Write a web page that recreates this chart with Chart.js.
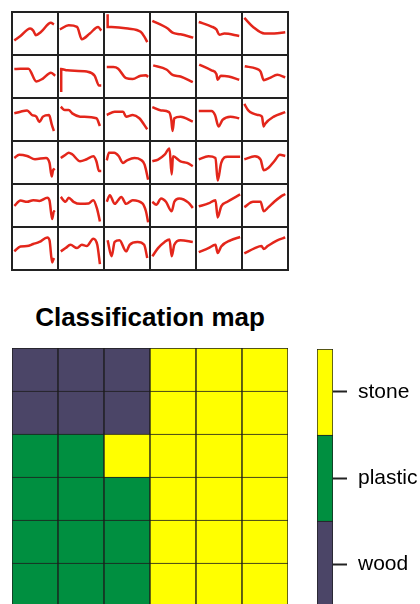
<!DOCTYPE html>
<html>
<head>
<meta charset="utf-8">
<script src="https://cdn.jsdelivr.net/npm/chart.js@4.4.0/dist/chart.umd.min.js"></script>
<style>
  html, body { margin: 0; padding: 0; background: #fff; width: 420px; height: 604px; overflow: hidden; }
  #grid { position: absolute; left: 11px; top: 11px; width: 278px; height: 260px; background: #222; }
  #grid canvas { position: absolute; background: #fff; }
  #title { position: absolute; left: 0; top: 304px; width: 300px; text-align: center;
           font: bold 26px "Liberation Sans", Arial, sans-serif; line-height: 26px; color: #000; }
  #heat { position: absolute; left: 11px; top: 347px; }
  #bar { position: absolute; left: 316px; top: 347px; }
</style>
</head>
<body>
<div id="grid"></div>
<div id="title">Classification map</div>
<canvas id="heat" width="278" height="262"></canvas>
<canvas id="bar" width="107" height="262"></canvas>
<script>
// spectra for each cell, read row by row (x 0-100, y 0-100 with 100 at top)
const spectra = [
  // row 1
  [[3,33],[17,44],[39,62],[46,57],[52,46],[64,54],[86,76],[93,72]],
  [[2,60],[22,70],[41,66],[52,36],[70,50],[89,66],[96,57]],
  [[6,97],[6,66],[15,66],[52,62],[81,54],[90,41],[96,29]],
  [[3,81],[38,62],[49,52],[67,48],[96,40]],
  [[4,78],[33,67],[44,60],[51,47],[62,50],[96,44]],
  [[3,88],[23,66],[49,50],[71,50],[96,53]],
  // row 2
  [[3,68],[17,69],[35,69],[53,38],[68,45],[86,59],[96,52]],
  [[5,12],[5,68],[19,65],[63,62],[81,52],[91,28],[96,28]],
  [[4,73],[19,73],[30,69],[48,46],[63,44],[81,52],[93,53],[98,49]],
  [[5,77],[35,67],[49,54],[67,50],[95,36]],
  [[5,79],[33,65],[44,56],[47,42],[54,52],[72,50],[96,42]],
  [[4,75],[30,69],[40,62],[47,41],[60,46],[78,54],[96,48]],
  // row 3
  [[3,65],[17,69],[32,72],[43,61],[53,57],[60,44],[68,57],[82,61],[88,38],[93,22]],
  [[4,81],[13,73],[22,73],[30,65],[48,57],[85,53],[93,34]],
  [[4,61],[22,69],[41,69],[48,57],[63,61],[78,53],[96,26]],
  [[3,80],[23,72],[41,68],[46,50],[49,22],[53,53],[67,57],[95,45]],
  [[4,71],[33,71],[41,61],[49,33],[58,49],[76,57],[96,53]],
  [[3,88],[12,72],[34,61],[43,57],[47,33],[50,39],[70,57],[96,68]],
  // row 4
  [[3,61],[14,69],[32,66],[50,58],[75,61],[83,49],[88,16],[91,31],[95,35]],
  [[4,61],[15,69],[22,74],[30,70],[48,53],[63,58],[78,65],[85,53],[91,29],[96,29]],
  [[4,55],[9,74],[21,74],[31,66],[41,49],[50,55],[67,61],[81,57],[90,45],[98,8]],
  [[3,53],[16,57],[31,69],[42,84],[47,21],[50,65],[67,53],[82,49],[95,41]],
  [[4,58],[26,65],[42,61],[47,6],[55,49],[69,64],[98,64]],
  [[3,58],[27,65],[40,57],[47,31],[58,37],[71,53],[84,69],[96,66]],
  // row 5
  [[3,49],[17,62],[32,59],[46,63],[60,61],[78,69],[83,62],[89,17],[93,36],[95,34]],
  [[4,71],[15,59],[22,69],[33,59],[48,54],[67,55],[78,63],[87,40],[93,11]],
  [[4,59],[11,75],[22,54],[30,63],[37,71],[48,54],[63,63],[85,55],[93,36],[98,9]],
  [[3,59],[12,52],[23,67],[34,59],[47,36],[53,59],[64,67],[85,57],[95,44]],
  [[4,48],[26,55],[42,63],[47,21],[55,48],[69,59],[98,77]],
  [[3,46],[23,59],[40,59],[47,36],[58,46],[71,59],[85,71],[96,78]],
  // row 6
  [[3,43],[17,55],[32,56],[46,61],[60,66],[78,77],[83,70],[89,16],[93,27]],
  [[4,43],[15,51],[26,59],[41,51],[52,59],[63,56],[78,74],[87,59],[93,12]],
  [[6,70],[15,31],[22,66],[33,70],[48,43],[56,59],[74,66],[89,59],[96,27]],
  [[3,31],[16,51],[31,66],[42,72],[47,31],[53,59],[67,70],[95,66]],
  [[4,41],[26,51],[42,59],[47,39],[55,55],[76,70],[98,78]],
  [[3,38],[27,51],[42,56],[47,49],[56,56],[78,70],[96,77]]
];

// classification grid, top row first
const classMap = [
  ['wood', 'wood', 'wood', 'stone', 'stone', 'stone'],
  ['wood', 'wood', 'wood', 'stone', 'stone', 'stone'],
  ['plastic', 'plastic', 'stone', 'stone', 'stone', 'stone'],
  ['plastic', 'plastic', 'plastic', 'stone', 'stone', 'stone'],
  ['plastic', 'plastic', 'plastic', 'stone', 'stone', 'stone'],
  ['plastic', 'plastic', 'plastic', 'stone', 'stone', 'stone']
];
const classes = ['wood', 'plastic', 'stone'];
const classColors = { wood: '#4b4567', plastic: '#008f40', stone: '#ffff00' };

Chart.defaults.animation = false;
Chart.defaults.responsive = false;
Chart.defaults.font.family = '"Liberation Sans", Arial, sans-serif';

// small spectra grid
const grid = document.getElementById('grid');
spectra.forEach(function (pts, i) {
  const row = Math.floor(i / 6), col = i % 6;
  const c = document.createElement('canvas');
  c.width = 44; c.height = 41;
  c.style.left = (2 + col * 46) + 'px';
  c.style.top = (2 + row * 43) + 'px';
  grid.appendChild(c);
  new Chart(c.getContext('2d'), {
    type: 'scatter',
    data: {
      datasets: [{
        data: pts.map(p => ({ x: p[0], y: p[1] })),
        showLine: true,
        borderColor: '#e3261b',
        borderWidth: 2.5,
        pointRadius: 0,
        cubicInterpolationMode: 'monotone',
        clip: false
      }]
    },
    options: {
      layout: { padding: 0 },
      plugins: { legend: { display: false }, tooltip: { enabled: false } },
      scales: {
        x: { display: false, min: 0, max: 100 },
        y: { display: false, min: 0, max: 100 }
      }
    }
  });
});

// heatmap: 6 stacked bars, one dataset per row (bottom row first)
const cols = ['1', '2', '3', '4', '5', '6'];
const heatSets = classMap.slice().reverse().map(function (r) {
  return {
    data: cols.map(() => 1),
    backgroundColor: r.map(k => classColors[k]),
    borderColor: '#1c1c1c',
    borderWidth: 1,
    categoryPercentage: 1,
    barPercentage: 1
  };
});
new Chart(document.getElementById('heat').getContext('2d'), {
  type: 'bar',
  data: { labels: cols, datasets: heatSets },
  options: {
    layout: { padding: { left: 1, right: 1, top: 1, bottom: 3 } },
    plugins: { legend: { display: false }, tooltip: { enabled: false } },
    scales: {
      x: { display: false, stacked: true },
      y: { display: false, stacked: true, min: 0, max: 6 }
    }
  }
});

// colour bar
const barSets = classes.map(function (k) {
  return {
    label: k,
    data: [2],
    backgroundColor: classColors[k],
    borderColor: '#1c1c1c',
    borderWidth: 1,
    categoryPercentage: 1,
    barPercentage: 1
  };
});
new Chart(document.getElementById('bar').getContext('2d'), {
  type: 'bar',
  data: { labels: [''], datasets: barSets },
  options: {
    layout: { padding: { left: 1, top: 2, bottom: 2 } },
    plugins: { legend: { display: false }, tooltip: { enabled: false } },
    scales: {
      x: { display: false, stacked: true },
      y: {
        position: 'right', stacked: true, min: 0, max: 6,
        afterBuildTicks: axis => { axis.ticks = [1, 3, 5].map(v => ({ value: v })); },
        afterFit: axis => { axis.width = 90; axis.paddingTop = 0; axis.paddingBottom = 0; },
        ticks: {
          color: '#000', padding: 11, font: { size: 21 },
          callback: v => classes[(v - 1) / 2]
        },
        grid: { drawOnChartArea: false, drawTicks: true, tickLength: 14, tickColor: '#222', tickWidth: 2 },
        border: { display: false }
      }
    }
  }
});
</script>
</body>
</html>
